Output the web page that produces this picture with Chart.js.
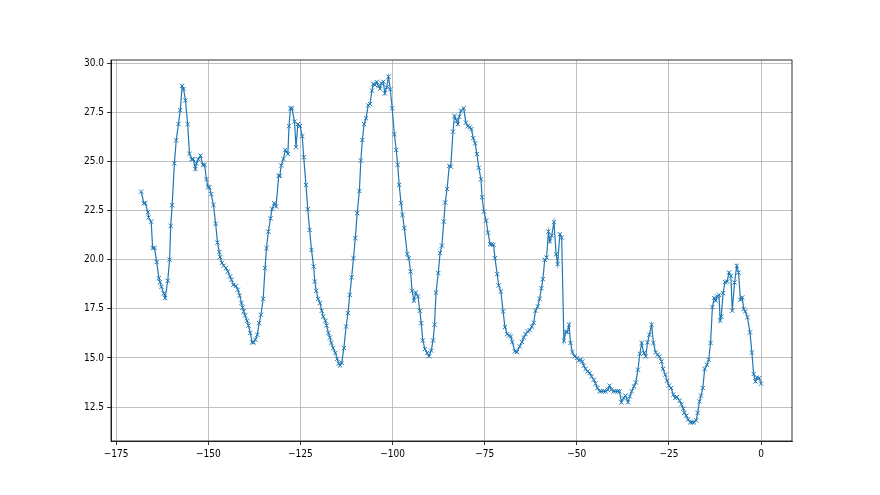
<!DOCTYPE html>
<html>
<head>
<meta charset="utf-8">
<script src="https://cdn.jsdelivr.net/npm/chart.js@4/dist/chart.umd.min.js"></script>
<style>
  body { margin: 0; background: #fff; }
  #wrap { width: 880px; height: 495px; }
</style>
</head>
<body>
<div id="wrap"><canvas id="tempChart" width="880" height="495"></canvas></div>
<script>
// hours relative to now, and the reading at each one
const hours = [
  -168.2, -167.5, -167.1, -166.4, -166.2, -165.5, -165.1, -164.6, -164.0, -163.4,
  -163.1, -162.7, -162.1, -161.7, -161.0, -160.5, -160.2, -159.8, -159.2, -158.7,
  -158.1, -157.6, -157.1, -156.7, -156.2, -155.6, -155.1, -154.5, -154.1, -153.5,
  -153.2, -152.7, -152.1, -151.5, -151.0, -150.5, -150.1, -149.7, -149.2, -148.6,
  -148.0, -147.5, -147.0, -146.8, -146.3, -145.8, -145.2, -144.7, -144.1, -143.7,
  -143.2, -142.5, -142.0, -141.5, -141.0, -140.7, -140.4, -140.0, -139.5, -139.1,
  -138.6, -138.1, -137.7, -137.2, -136.7, -136.2, -135.7, -135.1, -134.6, -134.2,
  -133.7, -133.1, -132.7, -132.1, -131.6, -130.9, -130.6, -130.2, -129.6, -129.1,
  -128.4, -128.1, -127.7, -127.3, -126.6, -126.2, -125.7, -125.1, -124.5, -124.1,
  -123.5, -123.0, -122.5, -122.0, -121.4, -121.1, -120.7, -120.2, -119.7, -119.2,
  -118.8, -118.2, -117.9, -117.4, -117.0, -116.6, -116.1, -115.5, -115.0, -114.6,
  -114.2, -113.8, -113.2, -112.6, -112.1, -111.6, -111.1, -110.6, -110.1, -109.6,
  -109.0, -108.6, -108.2, -107.7, -107.2, -106.6, -106.1, -105.6, -105.2, -104.8,
  -104.3, -103.8, -103.4, -103.0, -102.5, -102.1, -101.6, -101.1, -100.6, -100.1,
  -99.5, -99.0, -98.6, -98.2, -97.7, -97.3, -96.8, -96.0, -95.6, -95.1,
  -94.7, -94.2, -93.7, -93.1, -92.6, -92.2, -91.8, -91.2, -90.6, -90.1,
  -89.5, -89.0, -88.6, -88.2, -87.6, -87.1, -86.6, -86.1, -85.7, -85.2,
  -84.6, -84.2, -83.6, -83.2, -82.6, -82.3, -81.9, -81.4, -80.7, -80.1,
  -79.6, -79.0, -78.6, -78.1, -77.6, -77.1, -76.6, -76.0, -75.7, -75.2,
  -74.6, -74.1, -73.5, -73.1, -72.6, -72.2, -71.6, -71.2, -70.6, -70.0,
  -69.5, -68.9, -68.4, -67.9, -67.5, -66.8, -66.2, -65.5, -64.9, -64.4,
  -63.9, -63.3, -62.8, -62.2, -61.7, -61.2, -60.6, -60.1, -59.6, -59.2,
  -58.7, -58.2, -57.7, -57.3, -56.8, -56.2, -55.6, -55.2, -54.6, -54.1,
  -53.5, -53.0, -52.6, -52.1, -51.7, -51.2, -50.6, -50.0, -49.4, -48.9,
  -48.5, -48.1, -47.6, -47.1, -46.5, -46.0, -45.4, -44.9, -44.4, -43.8,
  -43.3, -42.7, -42.2, -41.6, -41.1, -40.6, -40.0, -39.5, -38.9, -38.4,
  -37.9, -37.3, -36.8, -36.1, -35.6, -35.1, -34.5, -34.0, -33.4, -32.9,
  -32.4, -31.8, -31.3, -30.8, -30.3, -29.7, -29.2, -28.6, -28.1, -27.6,
  -27.0, -26.6, -26.0, -25.5, -25.0, -24.4, -23.8, -23.3, -22.8, -22.1,
  -21.6, -21.1, -20.8, -20.3, -19.8, -19.2, -18.7, -18.2, -17.6, -17.2,
  -16.7, -16.3, -15.8, -15.3, -14.7, -14.2, -13.7, -13.2, -12.7, -12.3,
  -11.9, -11.4, -11.1, -10.8, -10.3, -9.8, -9.2, -8.7, -8.2, -7.8,
  -7.2, -6.6, -6.1, -5.6, -5.1, -4.7, -4.3, -3.7, -3.0, -2.5,
  -2.0, -1.5, -1.1, -0.5, 0
];
const temps = [
  23.47, 22.88, 22.88, 22.42, 22.15, 21.94, 20.6, 20.6, 19.88, 19.06,
  18.86, 18.62, 18.28, 18.05, 18.93, 20.0, 21.72, 22.78, 24.91, 26.08,
  26.91, 27.62, 28.85, 28.69, 28.12, 26.9, 25.39, 25.12, 25.12, 24.62,
  24.91, 25.12, 25.3, 24.83, 24.83, 24.1, 23.72, 23.69, 23.34, 22.79,
  21.83, 20.87, 20.39, 20.13, 19.84, 19.7, 19.57, 19.4, 19.15, 18.98,
  18.72, 18.67, 18.47, 18.18, 17.8, 17.57, 17.37, 17.16, 16.89, 16.65,
  16.27, 15.79, 15.79, 15.93, 16.18, 16.77, 17.2, 18.01, 19.57, 20.59,
  21.43, 22.11, 22.59, 22.88, 22.71, 24.27, 24.27, 24.8, 25.13, 25.59,
  25.39, 26.8, 27.71, 27.71, 27.03, 25.73, 26.9, 26.81, 26.29, 25.22,
  23.81, 22.57, 21.52, 20.5, 19.65, 18.89, 18.42, 18.01, 17.79, 17.4,
  17.11, 16.89, 16.65, 16.27, 16.04, 15.76, 15.5, 15.25, 14.95, 14.7,
  14.62, 14.75, 15.5, 16.6, 17.28, 18.21, 19.1, 20.08, 21.1, 22.37,
  23.5, 25.05, 26.1, 26.9, 27.2, 27.86, 27.93, 28.61, 28.95, 28.9,
  29.05, 28.85, 28.71, 28.98, 29.06, 28.47, 28.78, 29.32, 28.68, 27.71,
  26.39, 25.59, 24.83, 23.81, 22.88, 22.28, 21.61, 20.29, 20.08, 19.4,
  18.42, 17.92, 18.33, 18.13, 17.4, 16.77, 15.89, 15.45, 15.25, 15.08,
  15.37, 15.89, 16.69, 18.33, 19.32, 20.34, 20.72, 21.94, 22.91, 23.6,
  24.78, 24.74, 26.52, 27.32, 27.08, 26.9, 27.28, 27.59, 27.71, 26.98,
  26.8, 26.74, 26.65, 26.19, 25.93, 25.38, 24.68, 24.1, 23.18, 22.45,
  21.99, 21.38, 20.79, 20.79, 20.76, 20.08, 19.27, 18.69, 18.38, 17.37,
  16.57, 16.21, 16.14, 16.09, 15.81, 15.33, 15.3, 15.59, 15.81, 16.04,
  16.21, 16.35, 16.42, 16.6, 16.79, 17.4, 17.62, 18.01, 18.55, 19.01,
  20.0, 20.11, 21.43, 20.93, 21.23, 21.91, 20.28, 19.78, 21.3, 21.13,
  15.88, 16.32, 16.32, 16.69, 15.76, 15.3, 15.08, 15.0, 14.87, 14.91,
  14.82, 14.6, 14.44, 14.31, 14.23, 14.06, 13.89, 13.69, 13.47, 13.3,
  13.3, 13.3, 13.3, 13.38, 13.59, 13.38, 13.3, 13.3, 13.3, 13.3,
  12.74, 12.96, 13.08, 12.74, 13.04, 13.3, 13.55, 13.75, 14.4, 15.21,
  15.76, 15.25, 15.08, 15.79, 16.18, 16.69, 15.76, 15.28, 15.16, 15.08,
  14.82, 14.44, 14.15, 13.84, 13.59, 13.47, 13.13, 12.96, 13.01, 12.83,
  12.64, 12.42, 12.2, 12.06, 11.86, 11.72, 11.72, 11.72, 11.82, 12.2,
  12.79, 13.08, 13.47, 14.44, 14.65, 14.91, 15.76, 17.59, 18.05, 17.92,
  18.13, 18.21, 16.91, 17.11, 18.3, 18.86, 18.89, 19.35, 19.18, 17.4,
  18.84, 19.69, 19.35, 17.96, 18.08, 17.49, 17.37, 17.08, 16.3, 15.28,
  14.18, 13.8, 14.0, 13.97, 13.69
];
const xTicks = [-175, -150, -125, -100, -75, -50, -25, 0];
const yTicks = [12.5, 15.0, 17.5, 20.0, 22.5, 25.0, 27.5, 30.0];

const tickFont = { family: "'DejaVu Sans Condensed', 'DejaVu Sans', sans-serif", size: 10 };

// matplotlib style box around the plot area
const frame = {
    id: 'frame',
    afterDraw(chart) {
        const a = chart.chartArea;
        const c = chart.ctx;
        c.save();
        c.strokeStyle = '#000';
        c.lineWidth = 0.8;
        c.strokeRect(a.left, a.top, a.right - a.left, a.bottom - a.top);
        c.restore();
    }
};

const points = hours.map((h, i) => ({ x: h, y: temps[i] }));

new Chart(document.getElementById('tempChart').getContext('2d'), {
    type: 'line',
    data: {
        datasets: [{
            data: points,
            borderColor: '#1f77b4',
            borderWidth: 1.2,
            tension: 0,
            pointStyle: 'crossRot',
            pointRadius: 3,
            pointBorderWidth: 1,
            pointBorderColor: '#1f77b4',
            pointBackgroundColor: '#1f77b4'
        }]
    },
    options: {
        responsive: false,
        animation: false,
        layout: { padding: { top: 60, right: 88, left: 0, bottom: 0 } },
        plugins: { legend: { display: false }, tooltip: { enabled: false } },
        scales: {
            x: {
                type: 'linear',
                min: -176.4,
                max: 8.4,
                afterBuildTicks: (axis) => { axis.ticks = xTicks.map(v => ({ value: v })); },
                afterFit: (scale) => { scale.height = 54; },
                grid: { color: '#b0b0b0', lineWidth: 0.8, tickColor: '#000', tickLength: 4 },
                border: { color: '#000', width: 0.8 },
                ticks: {
                    font: tickFont,
                    color: '#000',
                    padding: 3,
                    maxRotation: 0,
                    callback: (v) => String(v).replace('-', '\u2212')
                }
            },
            y: {
                min: 10.77,
                max: 30.17,
                afterBuildTicks: (axis) => { axis.ticks = yTicks.map(v => ({ value: v })); },
                afterFit: (scale) => { scale.width = 111; },
                grid: { color: '#b0b0b0', lineWidth: 0.8, tickColor: '#000', tickLength: 4 },
                border: { color: '#000', width: 0.8 },
                ticks: {
                    font: tickFont,
                    color: '#000',
                    padding: 3,
                    callback: (v) => v.toFixed(1)
                }
            }
        }
    },
    plugins: [frame]
});
</script>
</body>
</html>
